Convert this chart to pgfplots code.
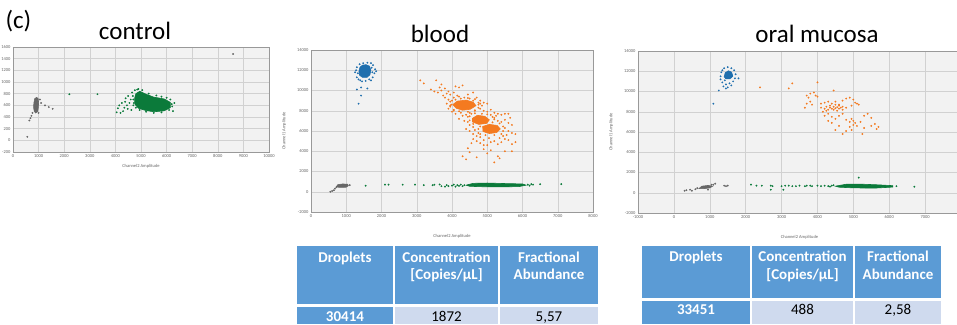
\documentclass[border=0pt]{standalone}
\usepackage{pgfplots}
\pgfplotsset{compat=1.18}
\usepackage{fontspec}
\setmainfont{Carlito}
\definecolor{ddblue}{HTML}{1F6FAE}
\definecolor{ddorange}{HTML}{F47A20}
\definecolor{ddgreen}{HTML}{0B7A3A}
\definecolor{ddgrey}{HTML}{676767}
\definecolor{hdrblue}{HTML}{5B9BD5}
\definecolor{cellblue}{HTML}{CFDAEE}
\pgfplotsset{
  dd/.style={scale only axis, anchor=south west,
    axis background/.style={fill=black!5},
    grid=major, major grid style={draw=black!18, line width=0.4pt},
    axis line style={draw=black!40, line width=0.5pt},
    major tick length=0pt, minor tick num=0,
    scaled ticks=false,
    tick label style={font=\fontsize{4.5}{4.5}\selectfont, text=black!60},
    label style={font=\fontsize{4.5}{4.5}\selectfont, text=black!60},
    /pgf/number format/assume math mode=true,
    /pgf/number format/1000 sep={},
    xticklabel style={yshift=1pt}, yticklabel style={xshift=1pt},
    clip=true},
  pts/.style={only marks, mark=*, mark size=0.7pt, color=#1, fill=#1, mark options={solid, draw=none, fill=#1}},
  core/.style={fill=#1, draw=#1, line width=0.6pt}
}
\tikzset{
  hdr/.style={font=\fontsize{15}{15}\selectfont\bfseries, text=white, anchor=base},
  val/.style={font=\fontsize{15}{15}\selectfont, anchor=base},
}
\begin{document}
\begin{tikzpicture}
\useasboundingbox (0,0) rectangle (957pt,324pt);
\node[anchor=west, font=\fontsize{25}{25}\selectfont] at (2pt,303pt) {(c)};
\node[anchor=base, font=\fontsize{25}{25}\selectfont] at (135pt,284pt) {control};
\node[anchor=base, font=\fontsize{25}{25}\selectfont] at (440pt,281pt) {blood};
\node[anchor=base, font=\fontsize{25}{25}\selectfont] at (817pt,281pt) {oral mucosa};

% ---------------- control ----------------
\begin{axis}[dd, at={(13pt,172pt)}, width=256pt, height=105pt,
  xmin=0, xmax=10000, ymin=-200, ymax=1600,
  xtick={0,1000,...,10000}, ytick={-200,0,...,1600},
  xlabel={Channel2 Amplitude}]
\addplot[core=ddgrey] coordinates {(830,500)(880,470)(960,490)(990,560)(1000,650)(980,720)(920,735)(850,715)(815,640)(805,560)} -- cycle;
\addplot[pts=ddgrey] coordinates {(760,470)(720,420)(680,380)(640,340)(560,60)(1100,640)(1250,600)(1400,570)(1550,540)(1050,700)(1000,470)(8600,1480)};
\addplot[core=ddgreen] coordinates {(4750,720)(4800,800)(4950,840)(5200,790)(5500,740)(5900,710)(6150,650)(6150,560)(5900,505)(5500,490)(5200,510)(4900,550)(4760,620)} -- cycle;
\addplot[pts=ddgreen] coordinates {(4700,700)(4720,640)(4680,760)(4650,820)(4760,860)(4850,870)(4900,880)(5050,860)(5300,800)(5600,770)(5800,750)(6000,730)(6150,700)(6200,620)(6220,580)(6100,520)(5800,480)(5500,470)(5200,490)(4950,520)(4800,560)(4700,600)(4600,700)(4550,640)(4500,760)(4450,600)(4400,720)(4350,560)(4300,500)(4250,640)(4200,470)(4150,600)(4100,550)(4050,480)(3300,790)(2200,790)(6300,640)(6250,500)(4620,520)(4480,540)(4380,660)};
\end{axis}

% ---------------- blood ----------------
\begin{axis}[dd, at={(311pt,112pt)}, width=282pt, height=162pt,
  xmin=0, xmax=8000, ymin=-2000, ymax=14000,
  xtick={0,1000,...,8000}, ytick={-2000,0,...,14000},
  xlabel={Channel2 Amplitude}, ylabel={Channel1 Amplitude},
  xlabel style={yshift=-10pt}, ylabel style={yshift=4pt}]
\addplot[core=ddblue] coordinates {(1360,11900)(1390,12300)(1460,12500)(1560,12550)(1660,12400)(1700,12000)(1670,11550)(1590,11300)(1460,11300)(1380,11500)} -- cycle;
\addplot[pts=ddblue] coordinates {(1250,11800)(1300,11300)(1350,11100)(1400,11000)(1450,10900)(1550,10950)(1650,11100)(1750,11300)(1800,11700)(1820,12100)(1760,12500)(1700,12700)(1600,12750)(1480,12700)(1380,12600)(1300,12300)(1280,12000)(1300,10100)(1420,10300)(1600,10200)(1420,9500)(1350,8700)(1850,11900)(1700,11000)(1330,11700)(1740,11800)(1720,12250)};
\addplot[core=ddorange] coordinates {(4020,8600)(4150,8950)(4400,9050)(4600,8850)(4680,8500)(4520,8150)(4300,8050)(4120,8250)} -- cycle;
\addplot[core=ddorange] coordinates {(4580,7250)(4720,7550)(4930,7450)(5060,7100)(4980,6750)(4760,6650)(4580,6900)} -- cycle;
\addplot[core=ddorange] coordinates {(4870,6450)(5060,6650)(5280,6550)(5370,6200)(5270,5850)(5060,5750)(4880,5950)} -- cycle;
\addplot[pts=ddorange] coordinates {(3100,11000)(3200,10700)(3550,11000)(3700,10600)(3650,10300)
(3400,10100)(3500,9900)(3600,9800)(3700,10000)(3800,10200)(3900,9900)(3950,9600)(4100,10400)(4200,10300)(4300,10500)(3750,9500)(3850,9700)(4050,9800)(4150,9500)(4450,9600)(4600,9800)
(3800,9300)(3900,9100)(3950,8900)(4050,9300)(4200,9400)(4350,9300)(4500,9200)(4700,9300)(4800,9000)(4900,8800)(3850,8700)(3950,8500)(4750,8600)(4850,8500)(5000,8700)(4600,9000)
(3900,8200)(4000,7900)(4100,7700)(4250,7800)(4400,7600)(4500,7800)(4650,8000)(4800,8200)(4900,8000)(5000,7900)(5100,8100)(5200,7800)(5300,7700)(5400,7600)(5500,7700)(5600,7700)(4300,7500)(4450,7400)(4050,8100)
(4200,7200)(4350,7000)(4450,6900)(4500,6600)(4600,6400)(5200,7300)(5300,7000)(5400,6900)(5500,7100)(5600,6800)(5650,7300)(5250,7500)(5100,7600)(5700,6600)
(4400,6200)(4500,6000)(4600,5700)(4650,6100)(4750,5800)(5500,6300)(5600,6000)(5700,5800)(5800,5700)(5550,5600)(5450,5500)(4700,5500)(4800,5400)
(4600,5200)(4700,5000)(4800,4800)(4900,5100)(5000,4600)(5100,4900)(5200,5000)(5300,4700)(5400,4900)(5500,5200)(5600,5100)(5700,4700)(5800,4900)(4900,4600)(5050,5300)(5350,5300)(4550,4800)
(4300,3500)(4400,3200)(4500,3900)(4700,3400)(4900,4200)(5000,3800)(5100,4100)(5300,3500)(5350,3300)(5200,2900)(5500,4000)(5700,4000)(4450,4300)
(3950,8400)(4000,9000)(4100,9100)(4250,9200)(4450,9250)(4650,9150)(4750,8800)(4800,8700)(4750,8300)(4650,8050)(4450,7900)(4200,7950)(4050,8000)(3980,8600)(4500,7450)(4550,7700)(4650,7750)(4850,7700)(5000,7650)(5150,7400)(5200,7150)(5150,6850)(5100,6500)(5450,6450)(5450,6000)(5400,5700)(5200,5600)(4950,5600)(4800,5700)(4750,6200)(4800,6450)(4500,7050)(4600,6700)(4900,6800)(5350,6750)};
\addplot[core=ddgrey] coordinates {(720,500)(800,430)(1000,450)(1060,600)(1040,740)(900,770)(760,700)} -- cycle;
\addplot[pts=ddgrey] coordinates {(550,0)(600,80)(650,150)(680,300)(720,450)(1100,650)};
\addplot[core=ddgreen] coordinates {(4400,650)(4600,830)(5000,860)(5500,810)(6000,770)(6100,650)(5900,510)(5400,480)(4800,500)(4500,540)} -- cycle;
\addplot[pts=ddgreen] coordinates {(3800,500)(3850,650)(3900,550)(4000,600)(4050,700)(4100,500)(4150,650)(4200,580)(4250,700)(4300,550)(4350,650)(6150,700)(6200,600)(6250,750)(1550,600)(2100,700)(2200,700)(2600,700)(2950,700)(3200,650)(3500,700)(3650,720)(3700,550)(6300,700)(6500,750)(7100,750)(3450,650)};
\end{axis}

% ---------------- oral mucosa ----------------
\begin{axis}[dd, at={(638pt,111pt)}, width=323pt, height=162pt,
  xmin=-1000, xmax=8000, ymin=-2000, ymax=14000,
  xtick={-1000,0,...,7000}, extra x ticks={8000}, extra x tick labels={},
  ytick={-2000,0,...,14000},
  xlabel={Channel2 Amplitude}, ylabel={Channel1 Amplitude},
  xlabel style={yshift=-10pt}, ylabel style={yshift=4pt}]
\addplot[core=ddblue] coordinates {(1400,11450)(1430,11850)(1520,12050)(1610,11900)(1640,11500)(1560,11250)(1450,11250)} -- cycle;
\addplot[pts=ddblue] coordinates {(1300,11500)(1320,11900)(1350,12100)(1400,12300)(1500,12400)(1600,12300)(1680,12100)(1720,11700)(1700,11300)(1650,11000)(1550,10800)(1450,10700)(1350,10900)(1300,11200)(1250,10100)(1450,10300)(1500,10400)(1600,10600)(1800,11300)(1100,8800)(1380,10500)(1620,11600)(1480,11600)(1420,11100)(1560,11850)};
\addplot[pts=ddorange] coordinates {(2400,10400)(3200,10300)(3300,10800)(4000,10900)(4450,10100)
(3700,9600)(3750,9400)(3800,9800)(3900,9900)(3950,9600)(4000,9500)(3650,8400)(3700,8800)(3800,9000)(3850,8700)(4100,8800)(4200,8900)(4300,9000)(4400,8800)(4500,9000)(4600,8700)(4700,9100)(4800,9300)(4900,9400)(5000,9200)(5050,8900)(5100,8800)(5150,8700)(4950,8600)
(4200,8300)(4250,8500)(4300,8200)(4350,8400)(4400,8300)(4450,8500)(4500,8350)(4550,8450)(4600,8300)(4650,8400)(4700,8500)(4350,8600)(4450,8200)(4550,8100)(4250,8100)(4150,8000)(4100,8400)(4600,8600)(4700,8200)(4800,8400)(4500,8700)
(4200,7600)(4300,7800)(4400,7500)(4500,7300)(4600,7600)(4700,7800)(4800,7200)(4900,7000)(4950,7300)(5000,7100)(5050,6900)(5000,6700)(5100,6600)(5200,7000)(5300,7600)(5400,7800)(5500,7400)(5600,6800)(5700,6500)(5650,6300)(5500,6600)(5300,6400)(4900,6500)(4500,6200)(4700,5800)(4800,6100)(4950,6200)(5250,5800)(4600,6600)(4400,6900)(4300,7100)};
\addplot[core=ddgrey] coordinates {(700,420)(780,650)(950,720)(1080,650)(1000,480)(820,400)} -- cycle;
\addplot[pts=ddgrey] coordinates {(300,200)(350,250)(450,300)(500,200)(600,350)(650,450)(1100,800)(1150,900)(1050,800)(950,300)(1400,700)(1450,650)(1500,700)};
\addplot[core=ddgreen] coordinates {(4500,650)(4800,840)(5200,850)(5700,780)(6100,700)(6100,560)(5600,460)(5000,480)(4600,550)} -- cycle;
\addplot[pts=ddgreen] coordinates {(2150,800)(2300,700)(2450,700)(2700,700)(2700,300)(2750,650)(3050,300)(3100,700)(3200,700)(3400,650)(3500,700)(3650,650)(3800,700)(3850,650)(4000,700)(4100,650)(4200,700)(4300,650)(4400,700)(5150,1500)(6700,600)(6200,650)(4450,750)(4350,600)(3000,650)(3300,650)(3700,700)};
\end{axis}

% ---------------- tables ----------------
% blood
\fill[hdrblue] (297pt,20pt) rectangle (393pt,78pt);
\fill[hdrblue] (395pt,20pt) rectangle (498pt,78pt);
\fill[hdrblue] (500pt,20pt) rectangle (598pt,78pt);
\fill[hdrblue] (297pt,0pt) rectangle (393pt,17pt);
\fill[cellblue] (395pt,0pt) rectangle (498pt,17pt);
\fill[cellblue] (500pt,0pt) rectangle (598pt,17pt);
\node[hdr] at (345pt,62pt) {Droplets};
\node[hdr] at (446.5pt,62pt) {Concentration};
\node[hdr] at (446.5pt,45pt) {[Copies/µL]};
\node[hdr] at (549pt,62pt) {Fractional};
\node[hdr] at (549pt,45pt) {Abundance};
\node[hdr] at (345pt,3pt) {30414};
\node[val] at (446.5pt,3pt) {1872};
\node[val] at (549pt,3pt) {5,57};
% oral mucosa
\fill[hdrblue] (642pt,26pt) rectangle (750pt,78pt);
\fill[hdrblue] (752pt,26pt) rectangle (853pt,78pt);
\fill[hdrblue] (855pt,26pt) rectangle (941pt,78pt);
\fill[hdrblue] (642pt,0pt) rectangle (750pt,23pt);
\fill[cellblue] (752pt,0pt) rectangle (853pt,23pt);
\fill[cellblue] (855pt,0pt) rectangle (941pt,23pt);
\node[hdr] at (696pt,63pt) {Droplets};
\node[hdr] at (802.5pt,63pt) {Concentration};
\node[hdr] at (802.5pt,45pt) {[Copies/µL]};
\node[hdr] at (898pt,63pt) {Fractional};
\node[hdr] at (898pt,45pt) {Abundance};
\node[hdr] at (696pt,10pt) {33451};
\node[val] at (802.5pt,10pt) {488};
\node[val] at (898pt,10pt) {2,58};
\end{tikzpicture}
\end{document}
